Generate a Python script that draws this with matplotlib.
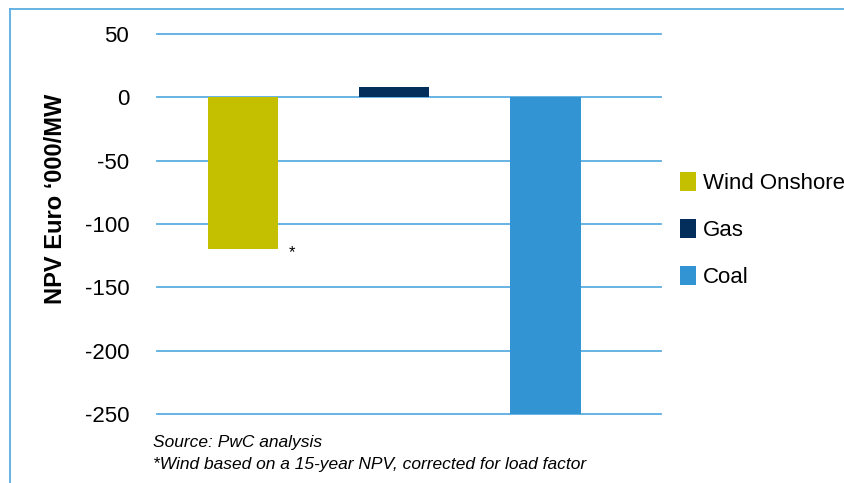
import matplotlib as mpl
mpl.use('Agg')
import matplotlib.pyplot as plt
from matplotlib.lines import Line2D

# data
categories = ['Wind Onshore', 'Gas', 'Coal']
npv_values = [-120, 8, -250]
bar_colors = ['#c4c000', '#032d5a', '#3394d3']
y_ticks = [50, 0, -50, -100, -150, -200, -250]

plt.rcParams['font.family'] = ['Liberation Sans', 'DejaVu Sans']
plt.rcParams['axes.unicode_minus'] = False

W, H = 845, 483
fig = plt.figure(figsize=(W / 100., H / 100.), dpi=100)

# light blue frame on left and top edges
frame_col = '#5aaee0'
fig.add_artist(Line2D([10.5 / W, 10.5 / W], [0, 1 - 8.5 / H], color=frame_col, lw=1.3))
fig.add_artist(Line2D([10.5 / W, 1], [1 - 8.5 / H, 1 - 8.5 / H], color=frame_col, lw=1.3))

ax = fig.add_axes([157. / W, 1 - 414. / H, (661. - 157.) / W, (414. - 34.) / H])
x = range(len(categories))
bars = ax.bar(x, npv_values, width=0.465, color=bar_colors, zorder=3)

ax.set_xlim(-0.569, 2.764)
ax.set_ylim(-250, 50)
ax.set_yticks(y_ticks)
ax.set_xticks([])
for s in ax.spines.values():
    s.set_visible(False)
ax.tick_params(axis='y', length=0, pad=20, labelsize=16)
for yv in y_ticks:
    ax.axhline(yv, color=frame_col, lw=1.3, zorder=1, clip_on=False)

ax.set_ylabel("NPV Euro \u2018000/MW", fontsize=17, fontweight='bold')
ax.yaxis.set_label_coords(-0.1786, 0.566)

# asterisk next to the wind bar
ax.text(0.305, -117, '*', fontsize=12, ha='left', va='top')

leg = ax.legend(bars, categories, loc='center left', frameon=False, fontsize=16,
                handlelength=0.72, handleheight=0.95, handletextpad=0.32,
                labelspacing=1.12, borderaxespad=0, borderpad=0)
leg.set_bbox_to_anchor((1.0377, 0.484), transform=ax.transAxes)

fig.text(153. / W, 1 - 442. / H, 'Source: PwC analysis', fontsize=12.5, style='italic', va='center')
fig.text(153. / W, 1 - 465. / H, '*Wind based on a 15-year NPV, corrected for load factor',
         fontsize=12.5, style='italic', va='center')

fig.savefig('out.png', dpi=100)
